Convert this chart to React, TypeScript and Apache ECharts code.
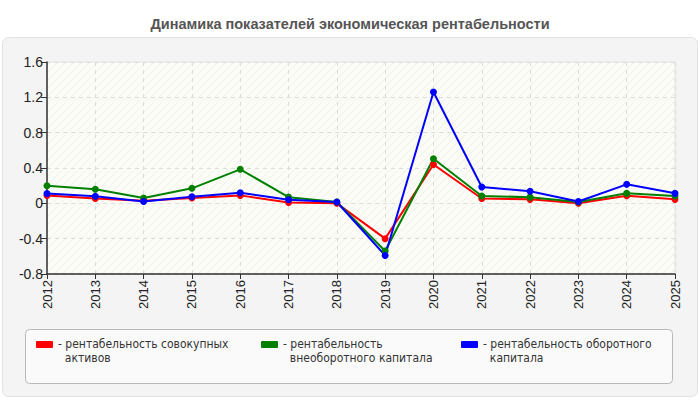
import React, { useEffect, useRef } from "react";
import * as echarts from "echarts";

const years = ["2012", "2013", "2014", "2015", "2016", "2017", "2018", "2019", "2020", "2021", "2022", "2023", "2024", "2025"];
const seriesNames = [
  "рентабельность совокупных активов",
  "рентабельность внеоборотного капитала",
  "рентабельность оборотного капитала",
];
const legendLabels = [
  "- рентабельность совокупных\n  активов",
  "- рентабельность\n  внеоборотного капитала",
  "- рентабельность оборотного\n  капитала",
];
const colors = ["#ff0000", "#008000", "#0000ff"];

const totalAssets = [0.09, 0.055, 0.03, 0.06, 0.09, 0.01, 0.0, -0.4, 0.44, 0.055, 0.045, 0.0, 0.085, 0.045];
const nonCurrent = [0.2, 0.16, 0.06, 0.17, 0.385, 0.07, 0.015, -0.54, 0.505, 0.083, 0.07, 0.015, 0.113, 0.083];
const current = [0.11, 0.08, 0.02, 0.075, 0.12, 0.04, 0.015, -0.59, 1.26, 0.185, 0.136, 0.02, 0.215, 0.113];
const seriesValues = [totalAssets, nonCurrent, current];

const yMin = -0.8;
const yMax = 1.6;
const yStep = 0.4;

const legendLeft = [36, 261, 461];

const makeHatch = () => {
  const c = document.createElement("canvas");
  c.width = 8;
  c.height = 8;
  const ctx = c.getContext("2d");
  if (ctx) {
    ctx.fillStyle = "#fcfcf6";
    ctx.fillRect(0, 0, 8, 8);
    ctx.strokeStyle = "#f0f0ec";
    ctx.lineWidth = 1;
    ctx.beginPath();
    ctx.moveTo(0, 8);
    ctx.lineTo(8, 0);
    ctx.moveTo(-4, 4);
    ctx.lineTo(4, -4);
    ctx.moveTo(4, 12);
    ctx.lineTo(12, 4);
    ctx.stroke();
  }
  return c;
};

// icon drawn in the upper part of a taller box so it lines up with the first text line
const legendIcon = "path://M0,0 L0.01,0 Z M1,3 L16,3 Q17,3 17,4 L17,9 Q17,10 16,10 L1,10 Q0,10 0,9 L0,4 Q0,3 1,3 Z M0,26 L0.01,26 Z";

const App: React.FC = () => {
  const chartRef = useRef<HTMLDivElement>(null);

  useEffect(() => {
    const dom = chartRef.current;
    if (!dom) return;
    const chart = echarts.init(dom, undefined, { renderer: "svg" });

    const option: echarts.EChartsOption = {
      animation: false,
      title: {
        text: "Динамика показателей экономическая рентабельности",
        left: "center",
        top: 11,
        textStyle: {
          fontFamily: "Liberation Sans, Arial, sans-serif",
          fontSize: 14.5,
          fontWeight: "bold",
          color: "#555555",
        },
      },
      graphic: [
        {
          type: "rect",
          z: -10,
          shape: { x: 2.5, y: 37.5, width: 695, height: 359, r: 6 },
          style: { fill: "#f4f4f4", stroke: "#e2e2e2", lineWidth: 1 },
        },
        {
          type: "rect",
          z: -5,
          shape: { x: 25.5, y: 329.5, width: 647, height: 54, r: 4 },
          style: { fill: "#fafafa", stroke: "#b8b8b8", lineWidth: 1 },
        },
      ],
      legend: seriesNames.map((name, i) => ({
        data: [name],
        left: legendLeft[i],
        top: 337,
        padding: 0,
        icon: legendIcon,
        itemWidth: 17,
        itemHeight: 26,
        selectedMode: false,
        itemStyle: { borderWidth: 0 },
        formatter: () => legendLabels[i],
        textStyle: {
          fontFamily: "Liberation Sans Narrow, DejaVu Sans Condensed, Arial, sans-serif",
          fontSize: 12,
          lineHeight: 14,
          color: "#333333",
        },
      })),
      grid: {
        left: 47,
        right: 25,
        top: 62,
        bottom: 126,
        show: true,
        backgroundColor: { image: makeHatch(), repeat: "repeat" } as any,
        borderColor: "#e4e4e4",
        borderWidth: 1,
      },
      xAxis: {
        type: "category",
        data: years,
        boundaryGap: false,
        axisLine: { onZero: false, lineStyle: { color: "#333333", width: 1.5 } },
        axisTick: { show: true, length: 5, lineStyle: { color: "#333333" } },
        axisLabel: {
          rotate: 90,
          fontFamily: "Liberation Sans, Arial, sans-serif",
          fontSize: 13,
          color: "#222222",
          margin: 6,
        },
        splitLine: { show: true, lineStyle: { color: "#dddddd", type: [4, 4] } },
      },
      yAxis: {
        type: "value",
        min: yMin,
        max: yMax,
        interval: yStep,
        axisLine: { show: true, lineStyle: { color: "#333333", width: 1.5 } },
        axisTick: { show: true, length: 6, lineStyle: { color: "#333333" } },
        axisLabel: {
          fontFamily: "Liberation Sans, Arial, sans-serif",
          fontSize: 14,
          color: "#222222",
          margin: 4,
          formatter: (v: number) => String(Math.round(v * 10) / 10),
        },
        splitLine: { show: true, lineStyle: { color: "#dddddd", type: [4, 4] } },
      },
      series: seriesNames.map((name, i) => ({
        name,
        type: "line",
        data: seriesValues[i],
        color: colors[i],
        symbol: "circle",
        symbolSize: 7,
        lineStyle: { width: 2, color: colors[i] },
        itemStyle: { color: colors[i], borderWidth: 0 },
      })),
    };

    chart.setOption(option);
    return () => {
      chart.dispose();
    };
  }, []);

  return (
    <div
      ref={chartRef}
      style={{ position: "fixed", left: 0, top: 0, width: 700, height: 400, background: "#ffffff" }}
    />
  );
};

export default App;
